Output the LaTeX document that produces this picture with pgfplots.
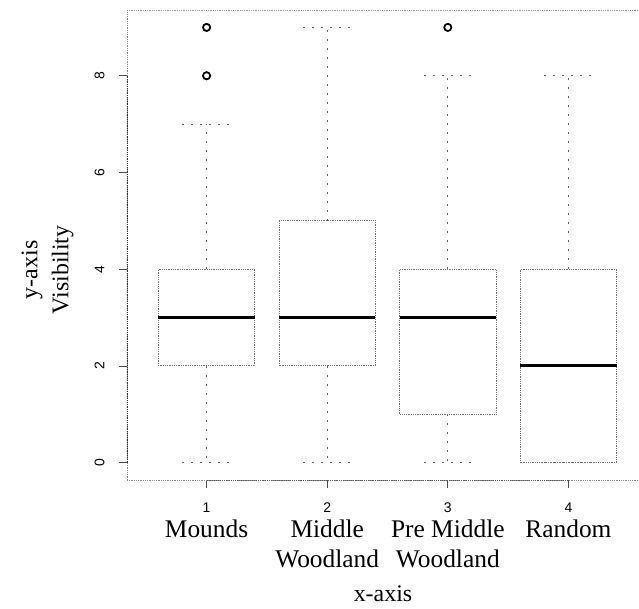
\documentclass[border=0pt]{standalone}
\usepackage{fontspec}
\setmainfont{Liberation Serif}
\newfontfamily\numfont{Liberation Sans}
\usepackage{pgfplots}
\pgfplotsset{compat=1.18}
\usepgfplotslibrary{statistics}

\begin{document}
\begin{tikzpicture}
\begin{axis}[
    scale only axis,
    width=512bp, height=470bp,
    xmin=0.34, xmax=4.585,
    ymin=-0.36, ymax=9.36,
    axis lines*=left,
    axis line style={black!45, densely dotted, line width=0.8bp},
    tick align=outside,
    major tick length=8bp,
    tick style={black!70, line width=0.7bp},
    /pgf/number format/assume math mode=true,
    xtick={1,2,3,4},
    xticklabels={1,2,3,4},
    xticklabel style={font=\numfont\fontsize{14}{14}\selectfont, yshift=-11bp},
    extra x ticks={1,2,3,4},
    extra x tick labels={Mounds, Middle\\Woodland, Pre Middle\\Woodland, Random},
    extra x tick style={major tick length=0pt,
        xticklabel style={font=\fontsize{25.5}{30}\selectfont, align=center, anchor=north, yshift=-25bp}},
    ytick={0,2,4,6,8},
    yticklabel style={font=\numfont\fontsize{14}{14}\selectfont, rotate=90, anchor=south},
    yticklabel shift=11bp,
    xlabel={x-axis},
    xlabel style={font=\fontsize{24}{29}\selectfont, yshift=-3bp},
    ylabel={y-axis\\Visibility},
    ylabel style={font=\fontsize{24}{31}\selectfont, align=center,
        at={([xshift=-50bp]rel axis cs:0,0.447)}, anchor=south},
    boxplot/draw direction=y,
    boxplot/box extend=0.8,
    boxplot/whisker extend=0.4,
    boxplot/every box/.style={draw=black!55, densely dotted, line width=0.8bp},
    boxplot/every whisker/.style={draw=black!60, dash pattern=on 2bp off 7bp, line width=1bp},
    boxplot/every median/.style={draw=black, line width=3bp},
]
% Mounds
\addplot[boxplot prepared={lower whisker=0, lower quartile=2, median=3,
    upper quartile=4, upper whisker=7, draw position=1},
    mark=o, mark size=3.6bp, mark options={black, solid, line width=1.8bp}]
    coordinates {(0,8) (0,9)};
% Middle Woodland
\addplot[boxplot prepared={lower whisker=0, lower quartile=2, median=3,
    upper quartile=5, upper whisker=9, draw position=2}]
    coordinates {};
% Pre Middle Woodland
\addplot[boxplot prepared={lower whisker=0, lower quartile=1, median=3,
    upper quartile=4, upper whisker=8, draw position=3},
    mark=o, mark size=3.6bp, mark options={black, solid, line width=1.8bp}]
    coordinates {(0,9)};
% Random
\addplot[boxplot prepared={lower whisker=0, lower quartile=0, median=2,
    upper quartile=4, upper whisker=8, draw position=4}]
    coordinates {};
% frame and R-style axis segments
\draw[black!40, densely dotted, line width=0.8bp] (rel axis cs:0,1) -- (rel axis cs:1,1);
\draw[black!80, densely dotted, line width=1.2bp] (axis cs:0.34,0) -- (axis cs:0.34,8);
\draw[black!65, densely dotted, line width=0.9bp] (axis cs:1,-0.36) -- (axis cs:4,-0.36);
\coordinate (sw) at (rel axis cs:0,0);
\coordinate (ne) at (rel axis cs:1,1);
\end{axis}
\pgfresetboundingbox
\path ([xshift=-127bp, yshift=-129bp]sw) rectangle ([yshift=10bp]ne);
\end{tikzpicture}
\end{document}
